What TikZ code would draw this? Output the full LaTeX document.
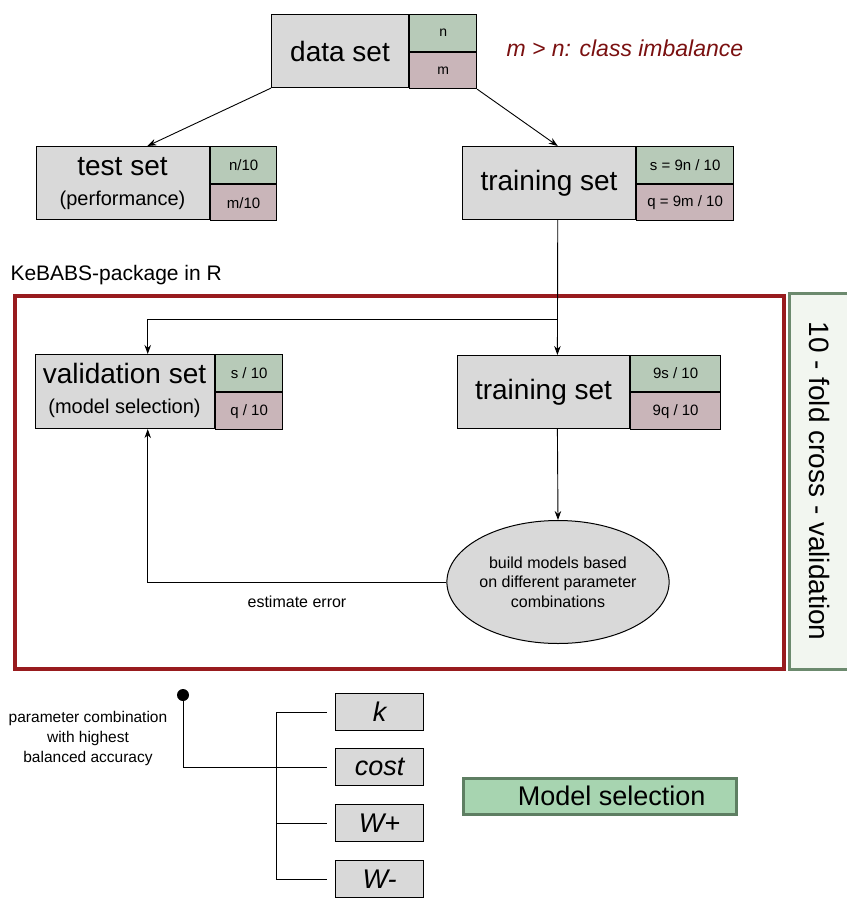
\documentclass[tikz,border=0pt]{standalone}
\usepackage{fontspec}
\setmainfont{Liberation Sans}
\usetikzlibrary{arrows.meta,calc,shapes.geometric}
\definecolor{boxgray}{HTML}{D9D9D9}
\definecolor{cellgreen}{HTML}{B7CAB8}
\definecolor{cellpink}{HTML}{C9B5B9}
\definecolor{darkredtext}{HTML}{7A1010}
\definecolor{framered}{HTML}{981B1E}
\definecolor{framegreen}{HTML}{6C8A6E}
\definecolor{palegreen}{HTML}{F2F6F0}
\definecolor{msfill}{HTML}{A7D4B0}
\definecolor{msborder}{HTML}{5E7E62}
\begin{document}
\begin{tikzpicture}[x=1pt,y=-1pt,
  mainbox/.style={draw=black, fill=boxgray, line width=1.1pt, inner sep=0pt, anchor=north west, align=center},
  gcell/.style={draw=black, fill=cellgreen, line width=1.1pt, inner sep=0pt, anchor=north west, font=\fontsize{15}{18}\selectfont},
  pcell/.style={draw=black, fill=cellpink, line width=1.1pt, inner sep=0pt, anchor=north west, font=\fontsize{15}{18}\selectfont},
  parbox/.style={draw=black, fill=boxgray, line width=1.1pt, inner sep=0pt, anchor=north west, minimum width=88, minimum height=37, font=\itshape\fontsize{27}{30}\selectfont},
  conn/.style={line width=0.9pt},
  arr/.style={conn, -{Stealth[length=9pt,width=6.5pt]}},
  bigtxt/.style={font=\fontsize{28}{30}\selectfont},
  titletxt/.style={anchor=base, inner sep=0pt, font=\fontsize{28}{30}\selectfont},
  subtxt/.style={anchor=base, inner sep=0pt, font=\fontsize{20}{24}\selectfont}
]
\useasboundingbox (0,0) rectangle (847,898);

% frames
\node[draw=framered, line width=4pt, minimum width=769, minimum height=373, inner sep=0pt, anchor=north west] (kframe) at (13,294) {};
\node[draw=framegreen, fill=palegreen, line width=3pt, minimum width=376, minimum height=62, inner sep=0pt, rotate=-90, font=\fontsize{28}{30}\selectfont] (cv) at (820,481) {10 - fold cross - validation};

% data set
\node[mainbox, minimum width=137, minimum height=73, bigtxt] (ds) at (271,14) {data set};
\node[gcell, minimum width=67, minimum height=37, font=\fontsize{14}{16}\selectfont] (dsn) at (ds.north east) {n};
\node[pcell, minimum width=67, minimum height=36, font=\fontsize{14}{16}\selectfont] (dsm) at (dsn.south west) {m};
\node[anchor=west, text=darkredtext, font=\itshape\fontsize{23}{26}\selectfont] (cls) at (503,48) {m > n: class imbalance};

% test set
\node[mainbox, minimum width=173, minimum height=73] (ts) at (36,146) {};
\node[titletxt] (tst) at (122.5,175) {test set};
\node[subtxt] (tss) at (122.5,205) {(performance)};
\node[gcell, minimum width=66, minimum height=37] (tsn) at (ts.north east) {n/10};
\node[pcell, minimum width=66, minimum height=36] (tsm) at (tsn.south west) {m/10};

% training set
\node[mainbox, minimum width=173, minimum height=73, bigtxt] (tr) at (462,146) {training set};
\node[gcell, minimum width=97, minimum height=37] (trs) at (tr.north east) {s = 9n / 10};
\node[pcell, minimum width=97, minimum height=36] (trq) at (trs.south west) {q = 9m / 10};

\node[anchor=west, font=\fontsize{21}{24}\selectfont] (keb) at (7,275) {KeBABS-package in R};

% validation set
\node[mainbox, minimum width=179, minimum height=74] (vs) at (35,354) {};
\node[titletxt] (vst1) at (124.5,383) {validation set};
\node[subtxt] (vst2) at (124.5,413) {(model selection)};
\node[gcell, minimum width=67, minimum height=37] (vss) at (vs.north east) {s / 10};
\node[pcell, minimum width=67, minimum height=37] (vsq) at (vss.south west) {q / 10};

% inner training set
\node[mainbox, minimum width=172, minimum height=73, bigtxt] (it) at (457,355) {training set};
\node[gcell, minimum width=90, minimum height=36] (its) at (it.north east) {9s / 10};
\node[pcell, minimum width=90, minimum height=37] (itq) at (its.south west) {9q / 10};

% ellipse
\node[ellipse, draw=black, fill=boxgray, line width=1pt, minimum width=166, minimum height=123, inner sep=0pt, align=center, font=\fontsize{16}{19.5}\selectfont] (ell) at (558,582) {build models based\\on different parameter\\combinations};
\node[font=\fontsize{16}{19}\selectfont] (est) at (297,602) {estimate error};

% connectors top
\draw[arr] (ds.south west) -- ($(ts.north west)!0.64!(ts.north east)$);
\draw[arr] (dsm.south east) -- ($(tr.north west)!0.55!(tr.north east)$);
\coordinate (trb) at ($(tr.south west)!0.55!(tr.south east)$);
\coordinate (itt) at ($(it.north west)!0.58!(it.north east)$);
\coordinate (itb) at ($(it.south west)!0.58!(it.south east)$);
\coordinate (vst) at ($(vs.north west)!0.626!(vs.north east)$);
\coordinate (vsb) at ($(vs.south west)!0.626!(vs.south east)$);
\coordinate (split) at (557,319);
\draw[arr] (trb) -- (itt);
\draw[arr] (split) -| (vst);
\draw[arr] (itb) -- (ell.north);
\draw[arr] (ell.west) -| (vsb);

% bottom: parameters
\node[parbox] (pk) at (335,693) {k};
\node[parbox] (pc) at (335,748) {cost};
\node[parbox] (pwp) at (335,804) {W+};
\node[parbox] (pwm) at (335,860) {W-};
\node[circle, fill=black, inner sep=0pt, minimum size=12] (dot) at (183,695) {};
\node[align=center, font=\fontsize{15.5}{20}\selectfont] (pctext) at (88,738) {parameter combination\\with highest\\balanced accuracy};
\coordinate (br) at (276,715);
\draw[conn, shorten >=8pt] (dot.center) |- (pc.west);
\draw[conn] (pk.west -| br) -- (pwm.west -| br);
\draw[conn, shorten >=8pt] (pk.west -| br) -- (pk.west);
\draw[conn, shorten >=8pt] (pwp.west -| br) -- (pwp.west);
\draw[conn, shorten >=8pt] (pwm.west -| br) -- (pwm.west);

% model selection
\node[draw=msborder, fill=msfill, line width=2.5pt, minimum width=273, minimum height=36, inner sep=0pt, anchor=north west, font=\fontsize{27}{30}\selectfont] (ms) at (462,777) {\hspace*{24pt}Model selection};
\end{tikzpicture}
\end{document}
